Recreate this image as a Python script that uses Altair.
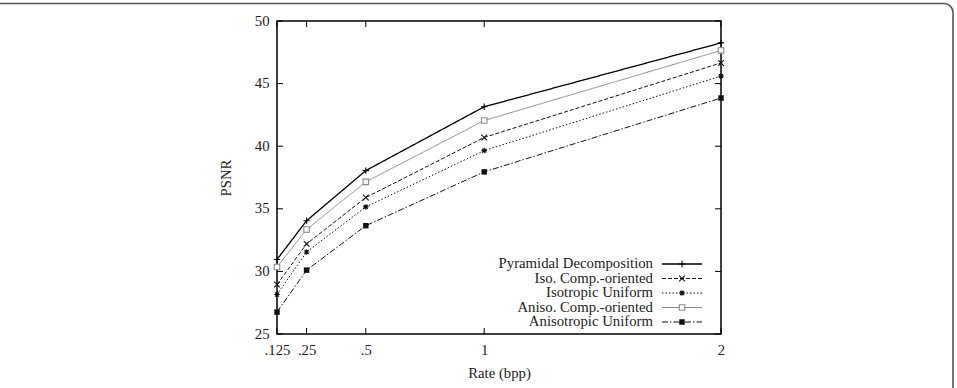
import altair as alt
import pandas as pd

rates = [0.125, 0.25, 0.5, 1.0, 2.0]
rate_labels = [".125", ".25", ".5", "1", "2"]
psnr_ticks = [25, 30, 35, 40, 45, 50]

series_names = [
    "Pyramidal Decomposition",
    "Iso. Comp.-oriented",
    "Isotropic Uniform",
    "Aniso. Comp.-oriented",
    "Anisotropic Uniform",
]
pyramidal = [30.95, 34.05, 38.05, 43.15, 48.25]
iso_comp = [28.95, 32.2, 35.9, 40.7, 46.65]
iso_uniform = [28.15, 31.55, 35.15, 39.65, 45.6]
aniso_comp = [30.35, 33.35, 37.15, 42.05, 47.65]
aniso_uniform = [26.75, 30.1, 33.65, 37.95, 43.85]
values = [pyramidal, iso_comp, iso_uniform, aniso_comp, aniso_uniform]

colors = ["#000000", "#111111", "#111111", "#8a8a8a", "#111111"]
dashes = [[1, 0], [4, 2], [1.5, 2], [1, 0], [6, 2, 1.5, 2]]
widths = [1.3, 1.0, 1.0, 1.0, 1.0]
plus = "M-1,0L1,0M0,-1L0,1"
xmark = "M-1,-1L1,1M-1,1L1,-1"
star = "M-1,0L1,0M0,-1L0,1M-0.75,-0.75L0.75,0.75M-0.75,0.75L0.75,-0.75"
shapes = [plus, xmark, star, "square", "square"]
filled = [False, False, False, False, True]
msize = [40, 32, 30, 30, 30]

W, H = 444, 313
font = "Liberation Serif"
fs = 14.75

x_scale = alt.Scale(domain=[0.125, 2], nice=False, zero=False)
y_scale = alt.Scale(domain=[25, 50], nice=False, zero=False)

label_expr = "datum.value == 0.125 ? '.125' : datum.value == 0.25 ? '.25' : datum.value == 0.5 ? '.5' : format(datum.value, 'd')"

layers = []

base_axes = alt.Chart(pd.DataFrame({"r": rates, "p": [25] * 5})).mark_point(opacity=0).encode(
    x=alt.X("r:Q", scale=x_scale,
            axis=alt.Axis(values=rates, labelExpr=label_expr, title="Rate (bpp)",
                          ticks=False, domain=False, grid=False, labelPadding=8,
                          titlePadding=9, labelFont=font, titleFont=font,
                          labelFontSize=fs, titleFontSize=fs, titleFontWeight="normal",
                          labelColor="#222", titleColor="#222", labelFlush=False)),
    y=alt.Y("p:Q", scale=y_scale,
            axis=alt.Axis(values=psnr_ticks, title="PSNR", ticks=False, domain=False,
                          grid=False, labelPadding=8, titlePadding=21, labelFont=font,
                          titleFont=font, labelFontSize=fs, titleFontSize=fs,
                          titleFontWeight="normal", labelColor="#222", titleColor="#222")),
)
layers.append(base_axes)

tick_df_y = pd.DataFrame({"p": psnr_ticks})
tick_df_x = pd.DataFrame({"r": rates})
tl = 6
layers.append(alt.Chart(tick_df_y).mark_rule(color="black", strokeWidth=1).encode(
    y=alt.Y("p:Q", scale=y_scale), x=alt.value(0), x2=alt.value(tl)))
layers.append(alt.Chart(tick_df_y).mark_rule(color="black", strokeWidth=1).encode(
    y=alt.Y("p:Q", scale=y_scale), x=alt.value(W - tl), x2=alt.value(W)))
layers.append(alt.Chart(tick_df_x).mark_rule(color="black", strokeWidth=1).encode(
    x=alt.X("r:Q", scale=x_scale), y=alt.value(H - tl), y2=alt.value(H)))
layers.append(alt.Chart(tick_df_x).mark_rule(color="black", strokeWidth=1).encode(
    x=alt.X("r:Q", scale=x_scale), y=alt.value(0), y2=alt.value(tl)))

for i, name in enumerate(series_names):
    df = pd.DataFrame({"r": rates, "p": values[i]})
    layers.append(alt.Chart(df).mark_line(color=colors[i], strokeDash=dashes[i],
                                          strokeWidth=widths[i]).encode(
        x=alt.X("r:Q", scale=x_scale), y=alt.Y("p:Q", scale=y_scale)))
    layers.append(alt.Chart(df).mark_point(shape=shapes[i], filled=filled[i], size=msize[i],
                                           color=colors[i], strokeWidth=1.1, opacity=1,
                                           fill=colors[i] if filled[i] else "white").encode(
        x=alt.X("r:Q", scale=x_scale), y=alt.Y("p:Q", scale=y_scale)))

ly0, lstep = 243, 14.5
for i, name in enumerate(series_names):
    ldf = pd.DataFrame({"name": [name], "ly": [ly0 + i * lstep]})
    layers.append(alt.Chart(ldf).mark_text(align="right", baseline="middle", font=font,
                                           fontSize=fs, color="#222").encode(
        text="name:N", x=alt.value(376), y=alt.Y("ly:Q", scale=None)))
    layers.append(alt.Chart(ldf).mark_rule(color=colors[i], strokeDash=dashes[i],
                                           strokeWidth=widths[i]).encode(
        x=alt.value(385), x2=alt.value(425), y=alt.Y("ly:Q", scale=None)))
    layers.append(alt.Chart(ldf).mark_point(shape=shapes[i], filled=filled[i], size=msize[i],
                                            color=colors[i], strokeWidth=1.1, opacity=1,
                                            fill=colors[i] if filled[i] else "white").encode(
        x=alt.value(405), y=alt.Y("ly:Q", scale=None)))

frame_df = pd.DataFrame({"a": [0]})
layers.append(alt.Chart(frame_df).mark_rect(cornerRadius=9, fill=None, stroke="#555555",
                                            strokeWidth=1.6, filled=False).encode(
    x=alt.value(-300), x2=alt.value(676), y=alt.value(-17.5), y2=alt.value(420)))

chart = alt.layer(*layers).properties(
    width=W, height=H,
    autosize=alt.AutoSizeParams(type="none"),
    padding={"left": 277, "top": 21, "right": 236, "bottom": 54},
    background="white",
).configure_view(stroke="black", strokeWidth=1.5)

chart.save("out.html", embed_options={"renderer": "svg", "actions": False})
